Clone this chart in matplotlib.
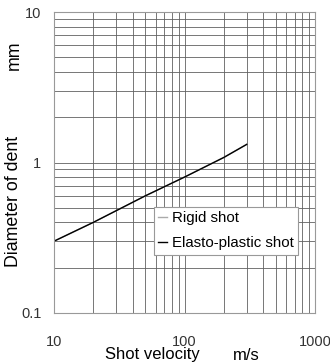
import matplotlib
matplotlib.use('Agg')
import matplotlib.pyplot as plt
from matplotlib.ticker import LogLocator, NullFormatter

plt.rcParams['font.family'] = ['Liberation Sans', 'DejaVu Sans']

velocity = [10, 20, 50, 100, 200, 300]
rigid_dent = [0.30, 0.40, 0.60, 0.80, 1.08, 1.32]
elasto_dent = [0.30, 0.40, 0.60, 0.80, 1.08, 1.32]

x_ticks = [10, 100, 1000]
x_labels = ['10', '100', '1000']
y_ticks = [0.1, 1, 10]
y_labels = ['0.1', '1', '10']

fig = plt.figure(figsize=(3.3, 3.64), dpi=100)
ax = fig.add_axes([54 / 330, 1 - 313 / 364, 261 / 330, 301 / 364])

ax.plot(velocity, rigid_dent, color='#aaaaaa', lw=1.0, label='Rigid shot')
ax.plot(velocity, elasto_dent, color='black', lw=1.0, label='Elasto-plastic shot')

ax.set_xscale('log')
ax.set_yscale('log')
ax.set_xlim(10, 1000)
ax.set_ylim(0.1, 10)
ax.set_xticks(x_ticks)
ax.set_xticklabels(x_labels)
ax.set_yticks(y_ticks)
ax.set_yticklabels(y_labels)
ax.xaxis.set_minor_locator(LogLocator(base=10, subs=range(2, 10)))
ax.yaxis.set_minor_locator(LogLocator(base=10, subs=range(2, 10)))
ax.xaxis.set_minor_formatter(NullFormatter())
ax.yaxis.set_minor_formatter(NullFormatter())
ax.tick_params(which='both', length=0, labelsize=10.5, colors='#333333')
ax.tick_params(axis='x', pad=16)
ax.tick_params(axis='y', pad=9)
ax.grid(True, which='both', color='#606060', lw=0.6)
for s in ax.spines.values():
    s.set_color('#999999')
    s.set_linewidth(0.8)

# axis titles, with the unit set apart as in the original
ax.set_xlabel('Shot velocity', fontsize=12)
ax.xaxis.set_label_coords((152 - 54) / 261, -(355 - 313) / 301)
ax.xaxis.label.set_va('center')
fig.text(246 / 330, 1 - 355 / 364, 'm/s', fontsize=12, ha='center', va='center')

ax.set_ylabel('Diameter of dent', fontsize=12.8)
ax.yaxis.set_label_coords(-(54 - 14) / 261, (313 - 201) / 301)
ax.yaxis.label.set_va('center')
fig.text(14 / 330, 1 - 55 / 364, 'mm', fontsize=12.8, rotation=90,
         ha='center', va='center')

leg = ax.legend(loc='upper left', bbox_to_anchor=(0.383, 0.353), fontsize=10.8,
                frameon=True, fancybox=False, handlelength=0.6, handletextpad=0.3,
                borderpad=0.3, labelspacing=0.75, borderaxespad=0, framealpha=1)
leg.get_frame().set_edgecolor('#999999')
leg.get_frame().set_linewidth(0.8)

fig.savefig('out.png', dpi=100)
